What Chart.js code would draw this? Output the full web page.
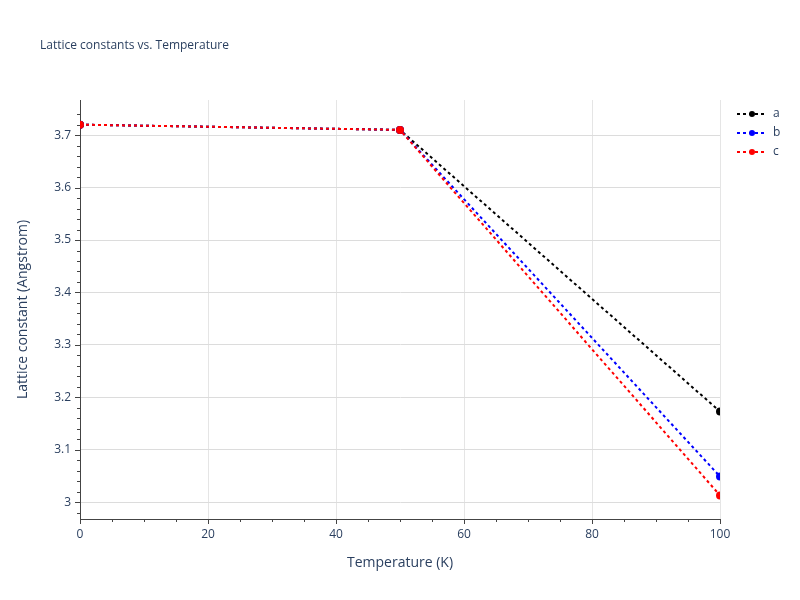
<!DOCTYPE html>
<html>
<head>
<meta charset="utf-8">
<script src="https://cdn.jsdelivr.net/npm/chart.js@4"></script>
<style>
  body { margin: 0; background: #fff; }
  #wrap { width: 800px; height: 600px; }
</style>
</head>
<body>
<div id="wrap"><canvas id="chart" width="800" height="600"></canvas></div>
<script>
// Data
const temperatures = [0, 50, 100];
const latticeA = [3.72, 3.71, 3.173];
const latticeB = [3.72, 3.71, 3.049];
const latticeC = [3.72, 3.71, 3.013];
const seriesNames = ['a', 'b', 'c'];
const seriesColors = ['#000000', '#0000ff', '#ff0000'];

const FONT = '"Open Sans", "Liberation Sans", sans-serif';
const TEXT = '#2a3f5f';

function toPoints(ys) {
    return temperatures.map((t, i) => ({ x: t, y: ys[i] }));
}

// Title, axis titles, legend and outside minor ticks
const decorations = {
    id: 'decorations',
    afterDraw(chart) {
        const ctx = chart.ctx;
        const area = chart.chartArea;
        const xs = chart.scales.x, ys = chart.scales.y;
        ctx.save();

        // outside ticks
        ctx.strokeStyle = '#444';
        ctx.lineWidth = 1;
        for (let v = 0; v <= 100.001; v += 5) {
            const px = Math.round(xs.getPixelForValue(v)) + 0.5;
            const len = (Math.abs(v % 20) < 0.01) ? 5 : 3;
            ctx.beginPath(); ctx.moveTo(px, area.bottom); ctx.lineTo(px, area.bottom + len); ctx.stroke();
        }
        for (let v = 2.98; v <= 3.76; v += 0.02) {
            const py = Math.round(ys.getPixelForValue(v)) + 0.5;
            const major = Math.abs((v * 10) - Math.round(v * 10)) < 0.01;
            const len = major ? 5 : 3;
            ctx.beginPath(); ctx.moveTo(area.left, py); ctx.lineTo(area.left - len, py); ctx.stroke();
        }

        ctx.fillStyle = TEXT;
        ctx.font = '12px ' + FONT;
        ctx.textAlign = 'left';
        ctx.textBaseline = 'middle';
        ctx.fillText('Lattice constants vs. Temperature', 40, 46);

        ctx.font = '14px ' + FONT;
        ctx.textAlign = 'center';
        ctx.fillText('Temperature (K)', (area.left + area.right) / 2, 563);
        ctx.save();
        ctx.translate(23, (area.top + area.bottom) / 2);
        ctx.rotate(-Math.PI / 2);
        ctx.fillText('Lattice constant (Angstrom)', 0, 0);
        ctx.restore();

        // legend
        ctx.font = '12px ' + FONT;
        ctx.textAlign = 'left';
        seriesNames.forEach((name, i) => {
            const y = 114 + i * 19;
            ctx.strokeStyle = seriesColors[i];
            ctx.lineWidth = 2;
            ctx.setLineDash([3, 3]);
            ctx.beginPath(); ctx.moveTo(737, y); ctx.lineTo(767, y); ctx.stroke();
            ctx.setLineDash([]);
            ctx.fillStyle = seriesColors[i];
            ctx.beginPath(); ctx.arc(752, y, 3, 0, Math.PI * 2); ctx.fill();
            ctx.fillStyle = TEXT;
            ctx.fillText(name, 773, y);
        });
        ctx.restore();
    }
};

const datasets = [latticeA, latticeB, latticeC].map((ys, i) => ({
    label: seriesNames[i],
    data: toPoints(ys),
    order: 2 - i, // later series drawn on top
    borderColor: seriesColors[i],
    backgroundColor: seriesColors[i],
    borderWidth: 2,
    borderDash: [3, 3],
    pointRadius: 3,
    pointHoverRadius: 3,
    tension: 0
}));

new Chart(document.getElementById('chart'), {
    type: 'line',
    data: { datasets },
    plugins: [decorations],
    options: {
        responsive: false,
        animation: false,
        layout: { padding: { left: 0, top: 100, right: 80, bottom: 0 } },
        plugins: { legend: { display: false }, tooltip: { enabled: false } },
        scales: {
            x: {
                type: 'linear',
                min: 0, max: 100,
                ticks: { stepSize: 20, color: TEXT, font: { family: FONT, size: 12 }, padding: 8 },
                grid: { color: '#e5e5e5', drawTicks: false },
                border: { color: '#444', width: 1 },
                afterFit(scale) { scale.height = 81; }
            },
            y: {
                min: 2.968, max: 3.767,
                afterBuildTicks(scale) {
                    scale.ticks = [];
                    for (let k = 30; k <= 37; k++) scale.ticks.push({ value: k / 10 });
                },
                ticks: {
                    color: TEXT, font: { family: FONT, size: 12 }, padding: 9,
                    callback: v => String(Math.round(v * 10) / 10)
                },
                grid: { color: '#dcdcdc', drawTicks: false },
                border: { color: '#444', width: 1 },
                afterFit(scale) { scale.width = 80; }
            }
        }
    }
});
</script>
</body>
</html>
